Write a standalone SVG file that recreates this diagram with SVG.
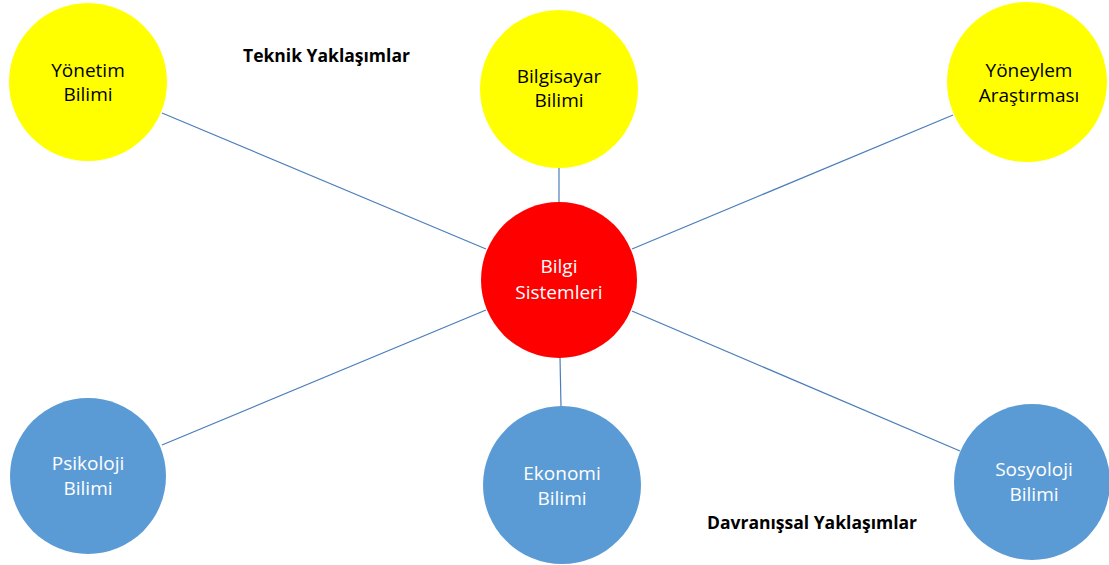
<svg xmlns="http://www.w3.org/2000/svg" width="1109" height="565" viewBox="0 0 1109 565">
  <style>
    .tech { fill: #ffff00; }
    .core { fill: #ff0000; }
    .behav { fill: #5b9bd5; }
    .lbl { font-family: "Open Sans", "Liberation Sans", sans-serif; font-size: 19px; text-anchor: middle; }
    .dark { fill: #000000; }
    .light { fill: #ffffff; }
    .head { font-family: "Open Sans", "Liberation Sans", sans-serif; font-size: 17.5px; font-weight: bold; fill: #000000; }
    .link { stroke: #4a7ebb; stroke-width: 1.2; fill: none; }
  </style>
  <rect width="1109" height="565" fill="#ffffff"/>

  <g id="connectors">
    <line class="link" x1="162" y1="113" x2="486" y2="249"/>
    <line class="link" x1="559" y1="167" x2="559" y2="202"/>
    <line class="link" x1="953" y1="115" x2="632" y2="249"/>
    <line class="link" x1="162" y1="445" x2="486" y2="310"/>
    <line class="link" x1="560" y1="357" x2="561" y2="407"/>
    <line class="link" x1="632" y1="311" x2="960" y2="451"/>
  </g>

  <g id="yonetim">
    <circle class="tech" cx="88" cy="82" r="79"/>
    <text class="lbl dark" x="88" y="77">Yönetim</text>
    <text class="lbl dark" x="88" y="101">Bilimi</text>
  </g>

  <g id="bilgisayar">
    <circle class="tech" cx="559" cy="89" r="79"/>
    <text class="lbl dark" x="559" y="83">Bilgisayar</text>
    <text class="lbl dark" x="559" y="107">Bilimi</text>
  </g>

  <g id="yoneylem">
    <circle class="tech" cx="1027" cy="82" r="80"/>
    <text class="lbl dark" x="1029" y="77">Yöneylem</text>
    <text class="lbl dark" x="1029" y="102">Araştırması</text>
  </g>

  <g id="bilgi-sistemleri">
    <circle class="core" cx="559" cy="280" r="78"/>
    <text class="lbl light" x="559" y="273">Bilgi</text>
    <text class="lbl light" x="559" y="299">Sistemleri</text>
  </g>

  <g id="psikoloji">
    <circle class="behav" cx="88" cy="476" r="78"/>
    <text class="lbl light" x="88" y="470">Psikoloji</text>
    <text class="lbl light" x="88" y="495">Bilimi</text>
  </g>

  <g id="ekonomi">
    <circle class="behav" cx="562" cy="485" r="79"/>
    <text class="lbl light" x="562" y="480">Ekonomi</text>
    <text class="lbl light" x="562" y="505">Bilimi</text>
  </g>

  <g id="sosyoloji">
    <circle class="behav" cx="1032" cy="482" r="78"/>
    <text class="lbl light" x="1034" y="476">Sosyoloji</text>
    <text class="lbl light" x="1034" y="501">Bilimi</text>
  </g>

  <g id="headings">
    <text class="head" x="243" y="62">Teknik Yaklaşımlar</text>
    <text class="head" x="707" y="529">Davranışsal Yaklaşımlar</text>
  </g>
</svg>
